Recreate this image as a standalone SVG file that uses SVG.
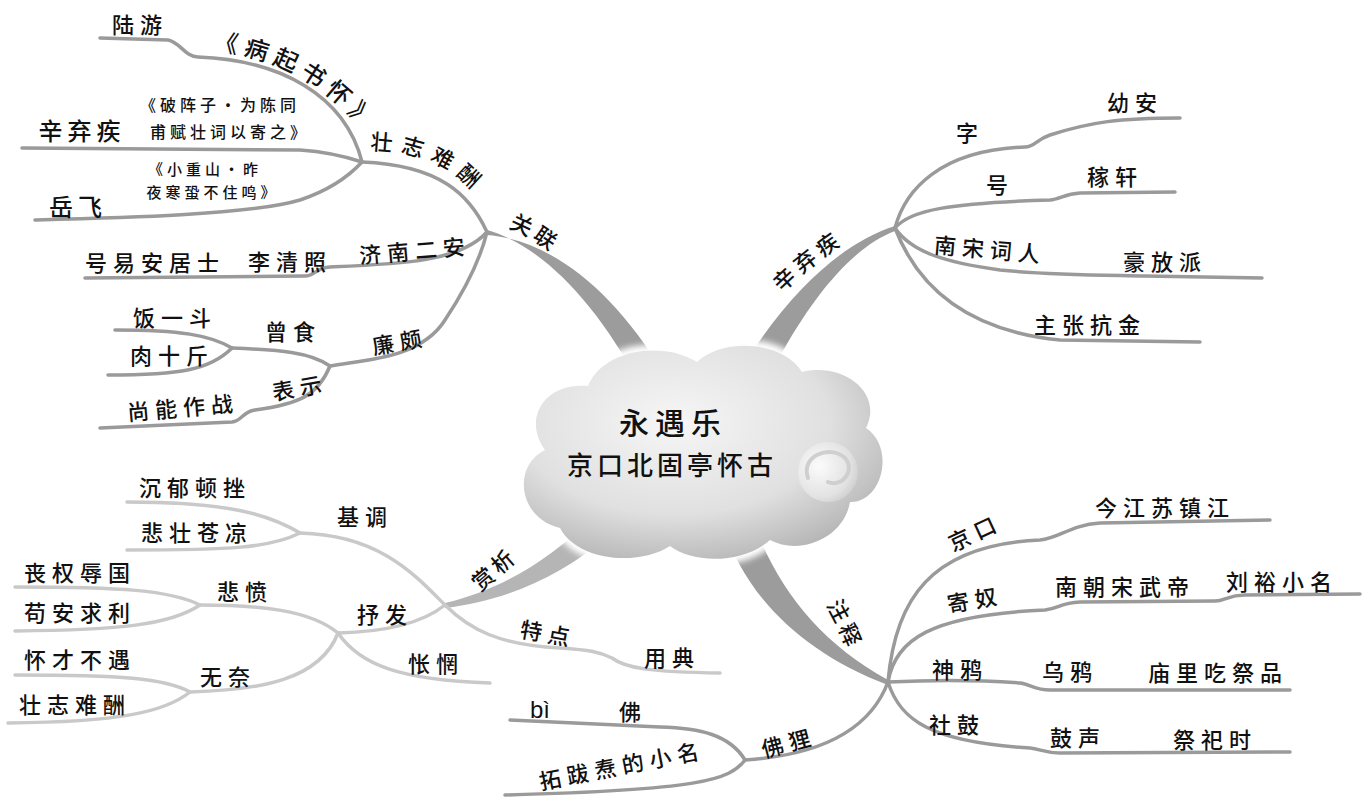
<svg xmlns="http://www.w3.org/2000/svg" width="1363" height="800" viewBox="0 0 1363 800">
<defs>
<style>
text{font-family:"Noto Sans CJK SC","Noto Sans CJK JP",sans-serif;fill:#111;font-size:22px;font-weight:500;letter-spacing:6px;text-anchor:middle}
.s{font-size:16px;letter-spacing:4px}
.xs{font-size:15px;letter-spacing:4px}
.big{font-size:24px;letter-spacing:5px}
.ln{fill:none;stroke:#9a9a9a;stroke-width:3.5;stroke-linecap:round;stroke-linejoin:round}
.lt{fill:none;stroke:#c9c9c9;stroke-width:3.5;stroke-linecap:round;stroke-linejoin:round}
.tk{fill:#9c9c9c}
.tl{fill:#b5b5b5}
</style>
<radialGradient id="cg" cx="0.42" cy="0.36" r="0.72">
<stop offset="0" stop-color="#f6f6f6"/>
<stop offset="0.6" stop-color="#e0e0e0"/>
<stop offset="1" stop-color="#b0b0b0"/>
</radialGradient>
<radialGradient id="sw" cx="0.35" cy="0.4" r="0.75">
<stop offset="0" stop-color="#fbfbfb"/>
<stop offset="0.7" stop-color="#e2e2e2"/>
<stop offset="1" stop-color="#c8c8c8"/>
</radialGradient>
<filter id="glow" x="-10%" y="-10%" width="120%" height="120%">
<feGaussianBlur stdDeviation="3"/>
</filter>
<path id="p1" d="M213,50 C268,56 318,78 361,127 L385,165"/>
<path id="p2" d="M370,150 C420,150 460,168 490,212 L505,240"/>
<path id="p3" d="M508,228 C530,236 548,248 570,268"/>
<path id="p4" d="M782,293 C800,275 818,260 860,232"/>
<path id="p5" d="M480,592 C495,580 508,568 540,540"/>
<path id="p6" d="M826,605 C835,620 842,635 855,668"/>
</defs>

<g id="connectors">
<path class="tk" d="M487,230 C540,245 595,300 640,385 L664,374 C615,292 552,240 487,235 Z"/>
<path class="tk" d="M895,226 C850,240 800,280 752,352 L778,360 C815,292 855,246 895,231 Z"/>
<path class="tl" d="M445,603 C500,590 550,560 592,518 L608,536 C562,576 505,601 445,608 Z"/>
<path class="tk" d="M722,522 C742,592 800,652 888,685 L888,680 C818,642 775,585 752,518 Z"/>

<path class="ln" d="M487,232 C470,195 440,165 362,162"/>
<path class="ln" d="M100,38 L168,40 C180,42 185,57 198,57 C280,60 345,95 362,162"/>
<path class="ln" d="M22,148 L300,150 C330,152 350,158 362,162"/>
<path class="ln" d="M35,220 C120,218 250,215 300,200 C330,190 350,175 362,162"/>
<path class="ln" d="M85,278 L305,276 C315,276 315,268 330,267 C400,264 460,262 487,232"/>
<path class="ln" d="M330,366 C360,360 420,360 445,320 C465,290 480,260 487,232"/>
<path class="ln" d="M330,366 C310,352 280,350 232,348"/>
<path class="ln" d="M232,348 C210,335 180,330 115,330"/>
<path class="ln" d="M232,348 C210,370 180,375 108,375"/>
<path class="ln" d="M100,428 L232,422 C242,421 242,412 255,410 C300,404 318,395 330,366"/>

<path class="ln" d="M895,228 C905,190 940,150 1025,147 C1035,147 1035,140 1050,135 C1090,122 1120,118 1180,118"/>
<path class="ln" d="M895,228 C910,210 950,203 1050,200 C1060,199 1065,194 1080,193 L1175,192"/>
<path class="ln" d="M895,228 C910,250 940,262 1000,270 C1050,275 1100,275 1145,276 L1262,278"/>
<path class="ln" d="M895,228 C915,280 960,330 1060,340 L1200,342"/>

<path class="ln" d="M888,682 C895,600 930,545 1040,540 C1060,538 1070,525 1100,523 L1270,520"/>
<path class="ln" d="M888,682 C895,640 930,615 1045,610 C1060,608 1060,603 1080,602 L1215,601 C1225,601 1228,595 1245,595 L1360,594"/>
<path class="ln" d="M888,682 C930,680 980,680 1020,683 C1030,684 1035,690 1050,690 L1290,690"/>
<path class="ln" d="M888,682 C900,720 930,742 1030,748 C1040,749 1045,753 1060,753 L1290,752"/>
<path class="ln" d="M888,682 C870,730 820,755 745,760"/>
<path class="ln" d="M745,760 C730,735 700,728 660,727 L510,720"/>
<path class="ln" d="M745,760 C730,780 700,790 505,795"/>

<path class="lt" d="M300,533 C380,535 415,575 445,605 C470,630 500,645 560,648 C590,650 600,652 612,658 C625,668 650,672 720,673"/>
<path class="lt" d="M300,533 C270,515 230,502 127,502"/>
<path class="lt" d="M300,533 C270,548 230,550 127,550"/>
<path class="lt" d="M445,605 C420,625 380,632 338,633"/>
<path class="lt" d="M338,633 C310,610 260,605 200,605"/>
<path class="lt" d="M200,605 C170,590 120,587 15,587"/>
<path class="lt" d="M200,605 C170,625 120,630 15,631"/>
<path class="lt" d="M338,633 C320,680 260,690 190,692"/>
<path class="lt" d="M190,692 C165,678 120,675 15,675"/>
<path class="lt" d="M190,692 C165,712 120,722 8,723"/>
<path class="lt" d="M338,633 C360,665 400,680 490,683"/>
</g>

<g id="center">
<path d="M560,528 C518,518 512,466 545,450 C522,418 545,382 588,386 C602,350 662,340 697,362 C722,338 782,340 802,372 C842,362 884,392 866,428 C896,448 882,503 850,502 C844,538 800,556 770,540 C740,566 690,562 670,546 C640,566 578,562 560,528 Z" fill="#fff" stroke="#fff" stroke-width="12" filter="url(#glow)"/>
<path d="M560,528 C518,518 512,466 545,450 C522,418 545,382 588,386 C602,350 662,340 697,362 C722,338 782,340 802,372 C842,362 884,392 866,428 C896,448 882,503 850,502 C844,538 800,556 770,540 C740,566 690,562 670,546 C640,566 578,562 560,528 Z" fill="url(#cg)"/>
<circle cx="828" cy="472" r="30" fill="url(#sw)"/>
<path d="M808,478 C800,456 830,444 845,458 C856,470 842,488 828,482" fill="none" stroke="#cfcfcf" stroke-width="4" stroke-linecap="round"/>
<text x="673" y="434" style="font-size:30px;letter-spacing:6px">永遇乐</text>
<text x="672" y="475" style="font-size:26px;letter-spacing:4px">京口北固亭怀古</text>
</g>

<g id="guanlian">
<text style="text-anchor:start;letter-spacing:4px"><textPath href="#p3">关联</textPath></text>
</g>
<g id="zhuangzhi">
<text style="text-anchor:start;letter-spacing:8px"><textPath href="#p2">壮志难酬</textPath></text>
</g>
<g id="luyou">
<text x="140" y="33">陆游</text>
<text style="text-anchor:start;font-size:24px;letter-spacing:6px"><textPath href="#p1">《病起书怀》</textPath></text>
</g>
<g id="xinqiji1">
<text class="big" x="82" y="140">辛弃疾</text>
<text class="s" x="220" y="111">《破阵子·为陈同</text>
<text class="s" x="230" y="138">甫赋壮词以寄之》</text>
</g>
<g id="yuefei">
<text class="big" x="78" y="216">岳飞</text>
<text class="xs" x="205" y="175">《小重山·昨</text>
<text class="xs" x="213" y="198">夜寒蛩不住鸣》</text>
</g>
<g id="jinan">
<text x="415" y="259" transform="rotate(-5 415 251)">济南二安</text>
<text x="290" y="270">李清照</text>
<text x="155" y="271">号易安居士</text>
</g>
<g id="lianpo">
<text x="400" y="350" transform="rotate(-10 400 342)">廉颇</text>
<text x="293" y="340">曾食</text>
<text x="175" y="326">饭一斗</text>
<text x="172" y="364">肉十斤</text>
<text x="300" y="396" transform="rotate(-10 300 388)">表示</text>
<text x="183" y="416" transform="rotate(-5 183 408)">尚能作战</text>
</g>

<g id="xinqiji">
<text style="text-anchor:start;letter-spacing:5px"><textPath href="#p4">辛弃疾</textPath></text>
<text x="970" y="141">字</text>
<text x="1135" y="111">幼安</text>
<text x="1000" y="193">号</text>
<text x="1115" y="185">稼轩</text>
<text x="990" y="258" transform="rotate(5 990 250)">南宋词人</text>
<text x="1165" y="270">豪放派</text>
<text x="1090" y="333">主张抗金</text>
</g>

<g id="shangxi">
<text style="text-anchor:start;letter-spacing:4px"><textPath href="#p5">赏析</textPath></text>
<text x="365" y="525">基调</text>
<text x="195" y="496">沉郁顿挫</text>
<text x="197" y="541">悲壮苍凉</text>
<text x="385" y="623">抒发</text>
<text x="245" y="600">悲愤</text>
<text x="80" y="581">丧权辱国</text>
<text x="80" y="621">苟安求利</text>
<text x="228" y="685">无奈</text>
<text x="80" y="668">怀才不遇</text>
<text x="75" y="713">壮志难酬</text>
<text x="436" y="672">怅惘</text>
<text x="548" y="642" transform="rotate(10 548 634)">特点</text>
<text x="672" y="666">用典</text>
</g>

<g id="zhushi">
<text style="text-anchor:start;letter-spacing:4px"><textPath href="#p6">注释</textPath></text>
<text x="975" y="541" transform="rotate(-25 975 533)">京口</text>
<text x="1165" y="516">今江苏镇江</text>
<text x="975" y="608" transform="rotate(-10 975 600)">寄奴</text>
<text x="1125" y="595">南朝宋武帝</text>
<text x="1282" y="590">刘裕小名</text>
<text x="960" y="678">神鸦</text>
<text x="1070" y="680">乌鸦</text>
<text x="1218" y="681">庙里吃祭品</text>
<text x="957" y="733">社鼓</text>
<text x="1078" y="746">鼓声</text>
<text x="1215" y="748">祭祀时</text>
<text x="789" y="751" transform="rotate(-15 789 743)">佛狸</text>
<text x="540" y="718" style="font-family:'Liberation Sans',sans-serif;font-size:24px;font-weight:400;letter-spacing:0">bì</text>
<text x="633" y="720">佛</text>
<text x="622" y="774" transform="rotate(-11 622 766)">拓跋焘的小名</text>
</g>
</svg>
